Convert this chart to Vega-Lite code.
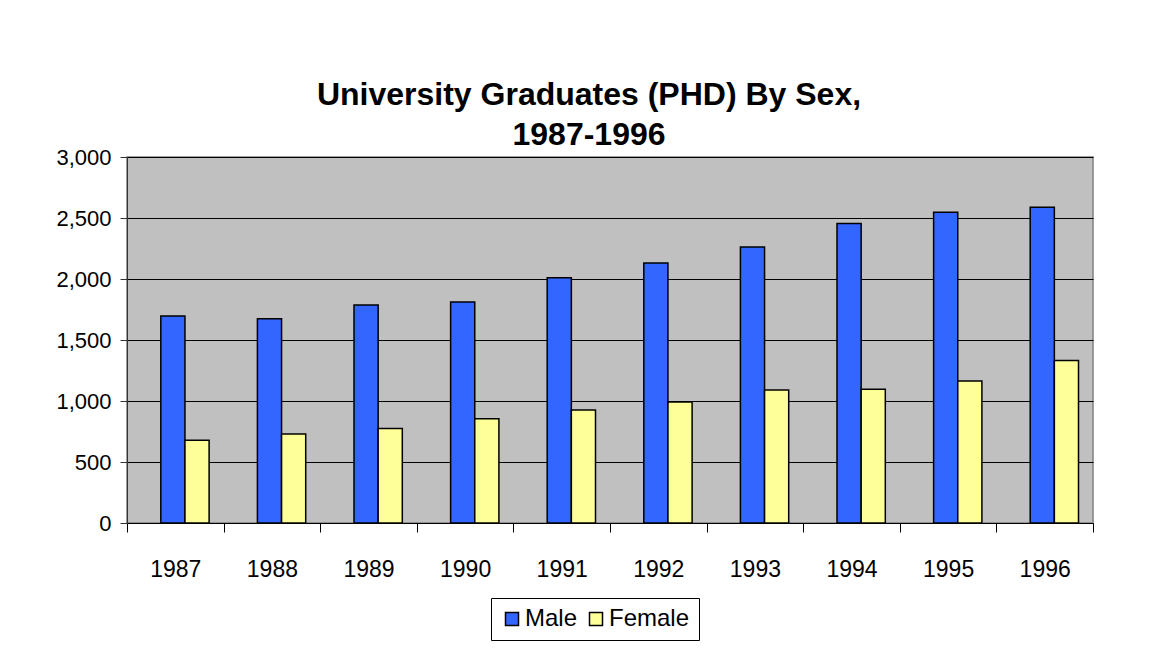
{
  "$schema": "https://vega.github.io/schema/vega-lite/v6.json",
  "width": 966,
  "height": 366,
  "autosize": {"type": "none"},
  "padding": {"left": 127, "top": 157, "right": 59, "bottom": 135},
  "background": "white",
  "title": {
    "text": ["University Graduates (PHD) By Sex,", "1987-1996"],
    "font": "Liberation Sans",
    "fontSize": 32,
    "fontWeight": "bold",
    "lineHeight": 40,
    "anchor": "middle",
    "dx": -21,
    "offset": -6,
    "color": "black"
  },
  "data": {
    "values": [
      {"year": "1987", "sex": "Male", "count": 1697},
      {"year": "1987", "sex": "Female", "count": 678},
      {"year": "1988", "sex": "Male", "count": 1675},
      {"year": "1988", "sex": "Female", "count": 730},
      {"year": "1989", "sex": "Male", "count": 1787},
      {"year": "1989", "sex": "Female", "count": 774},
      {"year": "1990", "sex": "Male", "count": 1811},
      {"year": "1990", "sex": "Female", "count": 855},
      {"year": "1991", "sex": "Male", "count": 2011},
      {"year": "1991", "sex": "Female", "count": 926},
      {"year": "1992", "sex": "Male", "count": 2131},
      {"year": "1992", "sex": "Female", "count": 992},
      {"year": "1993", "sex": "Male", "count": 2262},
      {"year": "1993", "sex": "Female", "count": 1090},
      {"year": "1994", "sex": "Male", "count": 2454},
      {"year": "1994", "sex": "Female", "count": 1096},
      {"year": "1995", "sex": "Male", "count": 2547},
      {"year": "1995", "sex": "Female", "count": 1164},
      {"year": "1996", "sex": "Male", "count": 2588},
      {"year": "1996", "sex": "Female", "count": 1331}
    ]
  },
  "mark": {"type": "bar", "stroke": "black", "strokeWidth": 1.5},
  "encoding": {
    "x": {
      "field": "year",
      "type": "nominal",
      "scale": {"paddingInner": 0, "paddingOuter": 0},
      "axis": {
        "title": null,
        "labelAngle": 0,
        "tickBand": "extent",
        "tickSize": 9,
        "labelPadding": 26,
        "labelFontSize": 23,
        "labelFont": "Liberation Sans",
        "labelColor": "black",
        "domainColor": "black",
        "domainWidth": 1,
        "tickColor": "black",
        "grid": false
      }
    },
    "xOffset": {
      "field": "sex",
      "type": "nominal",
      "sort": ["Male", "Female"],
      "scale": {"paddingInner": 0, "paddingOuter": 1.3, "align": 0.7}
    },
    "y": {
      "field": "count",
      "type": "quantitative",
      "scale": {"domain": [0, 3000]},
      "axis": {
        "title": null,
        "values": [0, 500, 1000, 1500, 2000, 2500, 3000],
        "format": ",.0f",
        "tickSize": 7,
        "labelPadding": 9,
        "labelFontSize": 22,
        "labelFont": "Liberation Sans",
        "labelColor": "black",
        "domainColor": "#333333",
        "tickColor": "#333333",
        "gridColor": "black",
        "gridWidth": 1,
        "gridOpacity": 1
      }
    },
    "color": {
      "field": "sex",
      "type": "nominal",
      "sort": ["Male", "Female"],
      "scale": {"domain": ["Male", "Female"], "range": ["#3366FF", "#FFFF99"]},
      "legend": {
        "orient": "none",
        "legendX": 364,
        "legendY": 441,
        "direction": "horizontal",
        "title": null,
        "symbolType": "square",
        "symbolSize": 169,
        "symbolStrokeColor": "black",
        "symbolStrokeWidth": 1.5,
        "symbolOpacity": 1,
        "labelFontSize": 24,
        "labelFont": "Liberation Sans",
        "labelColor": "black",
        "labelOffset": 1,
        "columnPadding": 6,
        "padding": 9,
        "strokeColor": "black",
        "fillColor": "white"
      }
    }
  },
  "config": {
    "view": {"fill": "#C0C0C0", "stroke": "#808080", "strokeWidth": 1.5}
  }
}
